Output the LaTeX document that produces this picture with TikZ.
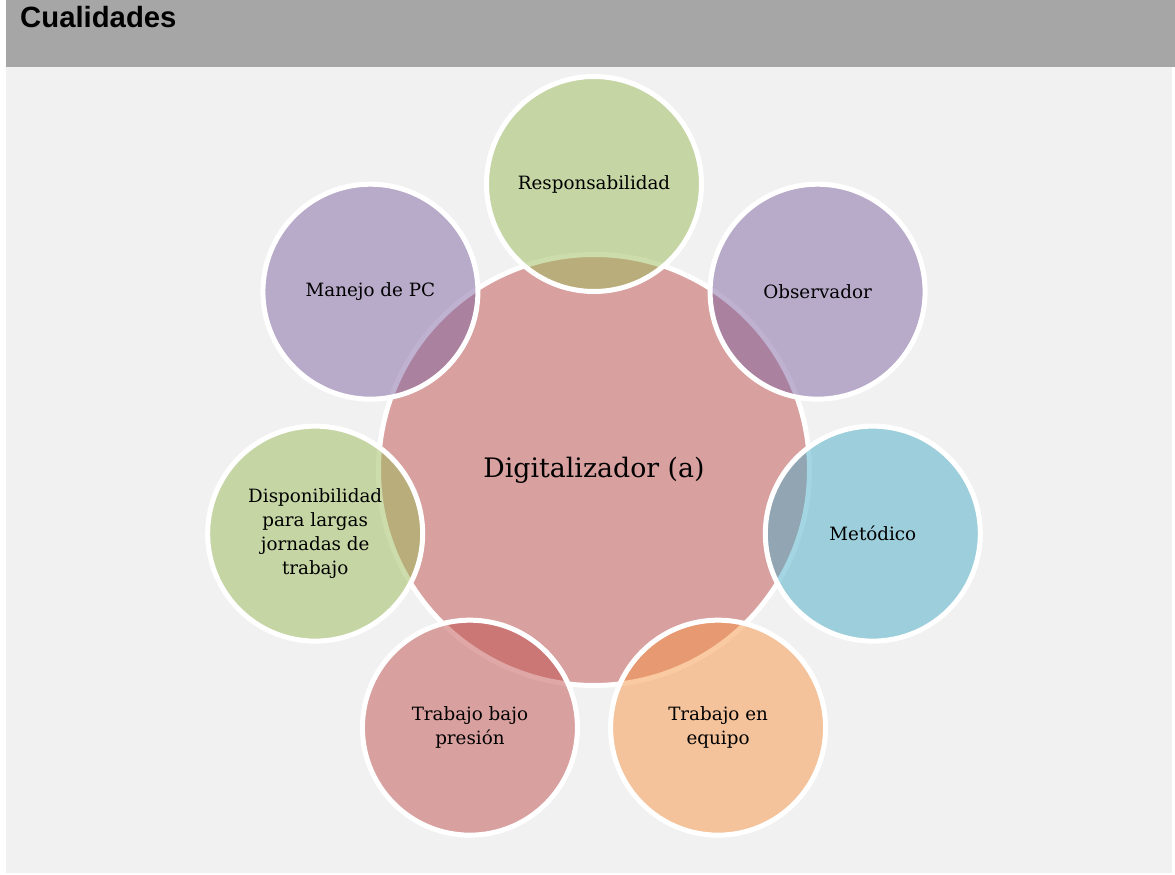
\documentclass[tikz,border=0pt]{standalone}
\usepackage{fontspec}
\setmainfont{DejaVu Serif}
\newfontfamily\hdrfont{Liberation Sans}
\usetikzlibrary{calc}
\definecolor{bgbody}{HTML}{F1F1F1}
\definecolor{bghead}{HTML}{A6A6A6}
\definecolor{cred}{HTML}{C0504D}
\definecolor{cgreen}{HTML}{9BBB59}
\definecolor{cpurple}{HTML}{8064A2}
\definecolor{caqua}{HTML}{4BACC6}
\definecolor{corange}{HTML}{F79646}
\tikzset{
  hub/.style={circle, draw=white, line width=5pt, fill=cred, fill opacity=0.5, text opacity=1,
    minimum size=431pt, inner sep=0pt, font=\fontsize{26.8}{32}\selectfont},
  sat/.style={circle, draw=white, line width=5pt, fill opacity=0.5, text opacity=1,
    minimum size=215pt, inner sep=0pt, align=center, font=\fontsize{18.3}{24.3}\selectfont},
}
\begin{document}
\begin{tikzpicture}[x=1pt,y=1pt]
\useasboundingbox (0,0) rectangle (1175,875);
\fill[white] (0,0) rectangle (1175,875);
\fill[bgbody] (6,2) rectangle (1172,808);
\fill[bghead] (6,808) rectangle (1175,875);
\node[anchor=base west, inner sep=0pt, font=\hdrfont\bfseries\fontsize{29.3}{33}\selectfont] (title) at (20,847) {Cualidades};
\node[hub] (hub) at (594,405) {Digitalizador (a)};
\node[sat, fill=cgreen] (s1) at ($(hub.center)+(90:286)$) {Responsabilidad};
\node[sat, fill=cpurple] (s2) at ($(hub.center)+(38.571:286)$) {Observador};
\node[sat, fill=caqua] (s3) at ($(hub.center)+(-12.857:286)$) {Metódico};
\node[sat, fill=corange] (s4) at ($(hub.center)+(-64.286:286)$) {Trabajo en\\equipo};
\node[sat, fill=cred] (s5) at ($(hub.center)+(-115.714:286)$) {Trabajo bajo\\presión};
\node[sat, fill=cgreen] (s6) at ($(hub.center)+(-167.143:286)$) {Disponibilidad\\para largas\\jornadas de\\trabajo};
\node[sat, fill=cpurple] (s7) at ($(hub.center)+(141.429:286)$) {Manejo de PC};
\end{tikzpicture}
\end{document}
